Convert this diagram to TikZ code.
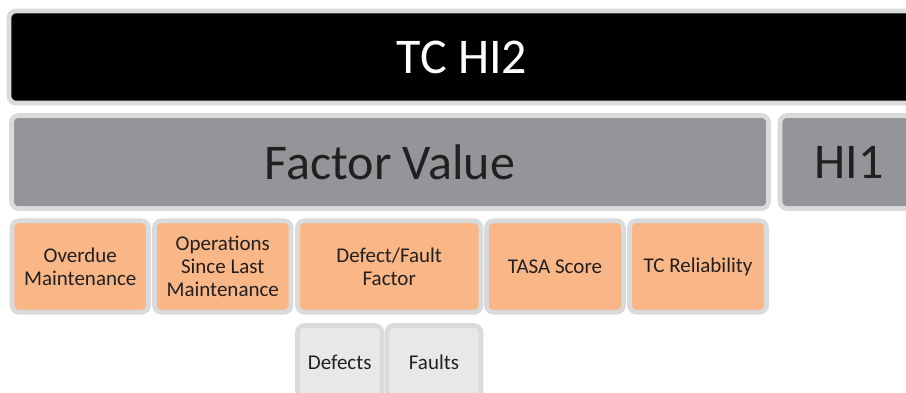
\documentclass[tikz,border=0pt]{standalone}
\usepackage{fontspec}
\setmainfont{Carlito}
\definecolor{rim}{HTML}{D9DADB}
\definecolor{barfill}{HTML}{939598}
\definecolor{factorfill}{HTML}{F9B686}
\definecolor{subfill}{HTML}{E8E8E9}
\definecolor{ink}{HTML}{231F20}
\tikzset{
  tile/.style={draw=rim, line width=4.6pt, rounded corners=7pt, inner sep=0pt, align=center},
  blackbar/.style={tile, fill=black, text=white, font=\fontsize{50}{54}\selectfont},
  graybar/.style={tile, fill=barfill, text=ink, font=\fontsize{50}{54}\selectfont},
  factor/.style={tile, fill=factorfill, text=ink, font=\fontsize{21}{23}\selectfont},
  subfactor/.style={tile, fill=subfill, text=ink, font=\fontsize{21}{23}\selectfont},
}
\begin{document}
\begin{tikzpicture}[x=1pt, y=-1pt]
\useasboundingbox (0,0) rectangle (906,392);
\clip (0,0) rectangle (906,392);
\fill[white] (0,0) rectangle (906,392);
% top level
\node[blackbar, minimum width=906pt, minimum height=92pt] (hi2) at (462,57) {TC HI2};
% second level
\node[graybar, minimum width=757pt, minimum height=93pt] (fv) at (390,162) {Factor Value};
\node[graybar, minimum width=138pt, minimum height=93pt] (hi1) at (849,162) {HI1};
% factors
\node[factor, minimum width=136.5pt, minimum height=91.5pt] (od) at (80.25,266.5) {Overdue\\Maintenance};
\node[factor, minimum width=136.5pt, minimum height=91.5pt] (ops) at (222.75,266.5) {Operations\\Since Last\\Maintenance};
\node[factor, minimum width=183.5pt, minimum height=91.5pt] (dff) at (389.25,266.5) {Defect/Fault\\Factor};
\node[factor, minimum width=137pt, minimum height=91.5pt] (tasa) at (555,266.5) {TASA Score};
\node[factor, minimum width=137pt, minimum height=91.5pt] (rel) at (698,266.5) {TC Reliability};
% sub factors
\node[subfactor, minimum width=84.5pt, minimum height=73pt] (def) at (339.75,362) {Defects};
\node[subfactor, minimum width=94pt, minimum height=73pt] (flt) at (434,362) {Faults};
\end{tikzpicture}
\end{document}
